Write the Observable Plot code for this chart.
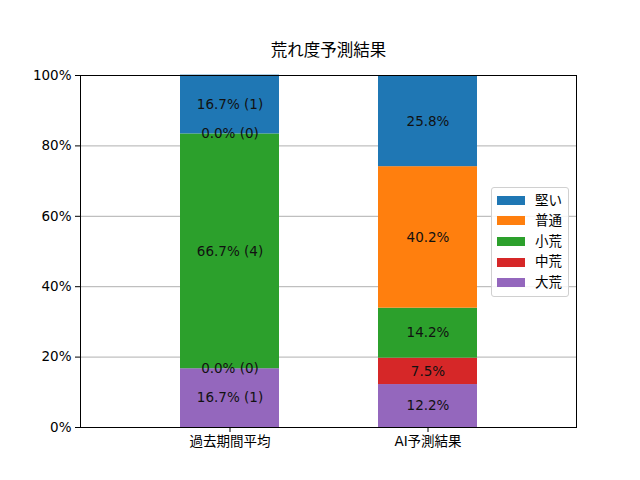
<!DOCTYPE html>
<html><head><meta charset="utf-8">
<script src="https://cdn.jsdelivr.net/npm/d3@7"></script>
<script src="https://cdn.jsdelivr.net/npm/@observablehq/plot@0.6"></script>
<style>
body{margin:0;background:#fff;font-family:"DejaVu Sans","Noto Sans CJK JP",sans-serif;}
#wrap{position:relative;width:640px;height:480px;}
#legend{position:absolute;left:491px;top:187px;width:78px;height:110px;border:1px solid #d0d0d0;border-radius:3px;background:rgba(255,255,255,0.85);box-sizing:border-box;padding:2px 0 0 5px;}
.item{display:flex;align-items:center;height:20.6px;font-size:13.5px;line-height:1;color:#000;}
.sw{width:28px;height:9px;margin-right:10px;}
</style></head>
<body><div id="wrap"><div id="chart"></div><div id="legend"></div></div>
<script>
const title = "荒れ度予測結果";
const categories = ["過去期間平均", "AI予測結果"];
const series = ["大荒", "中荒", "小荒", "普通", "堅い"];
const colors = ["#9467bd", "#d62728", "#2ca02c", "#ff7f0e", "#1f77b4"];
const pastValues = [16.7, 0.0, 66.7, 0.0, 16.7];
const pastCounts = [1, 0, 4, 0, 1];
const aiValues = [12.2, 7.5, 14.2, 40.2, 25.8];
const yTicks = [0, 20, 40, 60, 80, 100];

const rows = [];
series.forEach((s, i) => {
  rows.push({cat: categories[0], series: s, value: pastValues[i], label: `${pastValues[i].toFixed(1)}% (${pastCounts[i]})`});
  rows.push({cat: categories[1], series: s, value: aiValues[i], label: `${aiValues[i].toFixed(1)}%`});
});

const font = '"DejaVu Sans","Noto Sans CJK JP",sans-serif';
const chart = Plot.plot({
  width: 640, height: 480,
  marginTop: 75, marginBottom: 53, marginLeft: 80, marginRight: 64,
  x: {domain: categories, padding: 0.5, label: null},
  y: {domain: [0, 100], label: null},
  color: {domain: series, range: colors},
  style: {fontFamily: font, fontSize: "13.5px", color: "#000", background: "#fff"},
  marks: [
    Plot.gridY(yTicks, {stroke: "#b0b0b0", strokeOpacity: 1, strokeWidth: 1}),
    Plot.barY(rows, Plot.stackY({x: "cat", y: "value", z: "series", fill: "series", order: series})),
    Plot.text(rows, Plot.stackY({x: "cat", y: "value", z: "series", text: "label", order: series, fill: "#111", fontSize: 13.5})),
    Plot.axisY(yTicks, {tickSize: 5, tickPadding: 4, tickFormat: d => d + "%", label: null, fontSize: 13.5}),
    Plot.axisX({tickSize: 5, tickPadding: 4, label: null, fontSize: 13.5}),
    Plot.frame({stroke: "#000", strokeWidth: 1}),
    Plot.text([title], {text: d => d, frameAnchor: "top", dy: -31, fontSize: 16.5})
  ]
});
document.getElementById("chart").appendChild(chart);

const leg = document.getElementById("legend");
[...series].reverse().forEach(s => {
  const i = series.indexOf(s);
  const d = document.createElement("div");
  d.className = "item";
  d.innerHTML = `<span class="sw" style="background:${colors[i]}"></span><span>${s}</span>`;
  leg.appendChild(d);
});
</script></body></html>
